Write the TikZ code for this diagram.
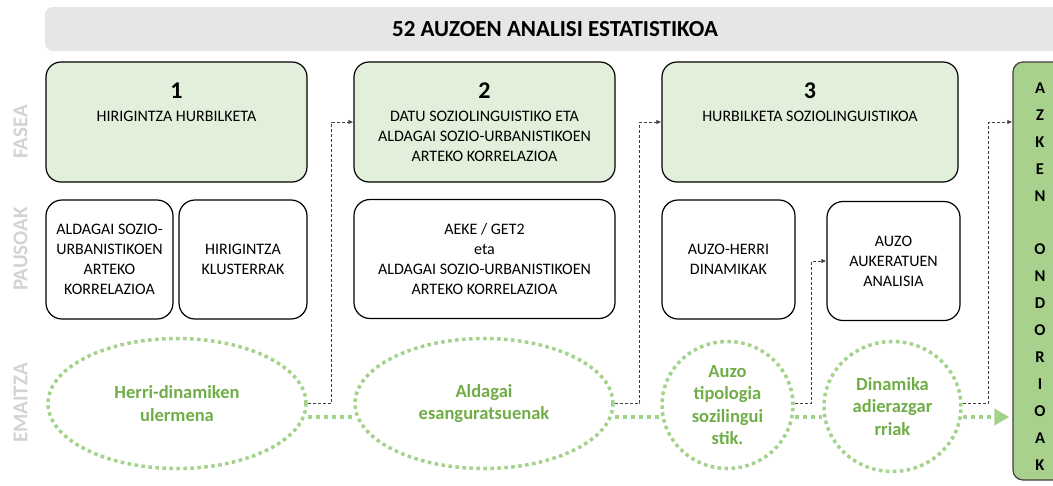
\documentclass[tikz,border=0pt]{standalone}
\usepackage{fontspec}
\setmainfont{Carlito}
\usetikzlibrary{arrows.meta,shapes.geometric,positioning}
\definecolor{phasegreen}{HTML}{E2EFDA}
\definecolor{endgreen}{HTML}{A9D18E}
\definecolor{dotgreen}{HTML}{A3D38A}
\definecolor{textgreen}{HTML}{70AD47}
\definecolor{headgray}{HTML}{E6E6E6}
\definecolor{sidegray}{HTML}{D3D3D3}
\definecolor{linegray}{HTML}{404040}

\begin{document}
\begin{tikzpicture}[x=1pt,y=-1pt,
	phasebox/.style={draw=black, line width=1.2pt, fill=phasegreen, rounded corners=15pt, minimum height=120pt, inner sep=0pt},
	phasenum/.style={font=\fontsize{24}{24}\selectfont\bfseries, inner sep=0pt},
	phasetext/.style={anchor=north, align=center, inner sep=0pt, font=\fontsize{16}{20}\selectfont},
	stepbox/.style={draw=black, line width=1.2pt, fill=white, rounded corners=16pt, minimum height=119pt, align=center, inner sep=0pt, font=\fontsize{16}{20}\selectfont},
	result/.style={ellipse, draw=dotgreen, line width=3.5pt, dash pattern=on 3.5pt off 3.5pt, inner sep=0pt, align=center, text=textgreen, font=\fontsize{18.5}{22.5}\selectfont\bfseries},
	sidelabel/.style={rotate=90, text=sidegray, font=\fontsize{21}{21}\selectfont\bfseries},
	link/.style={draw=linegray, line width=0.8pt, dash pattern=on 3pt off 2pt, -{Latex[length=5pt,width=4.5pt]}},
	flow/.style={draw=dotgreen, line width=4pt, dash pattern=on 4pt off 4pt},
]
	\useasboundingbox (0,0) rectangle (1053,485);
	% header
	\node (head) at (555,29) [fill=headgray, rounded corners=8pt, minimum width=1020pt, minimum height=44pt, font=\fontsize{23}{23}\selectfont\bfseries] {52 AUZOEN ANALISI ESTATISTIKOA};
	% row labels
	\node (fasea) at (20.5,132) [sidelabel] {FASEA};
	\node (pausoak) at (20.5,249) [sidelabel] {PAUSOAK};
	\node (emaitza) at (20.5,403) [sidelabel] {EMAITZA};
	% phases
	\node (f1) at (176.5,122) [phasebox, minimum width=261pt] {};
	\node (f1num) at (176.5,90.5) [phasenum] {1};
	\node (f1txt) at (176.5,111) [phasetext] {HIRIGINTZA HURBILKETA};
	\node (f2) at (484.5,122) [phasebox, minimum width=261pt] {};
	\node (f2num) at (484.5,90.5) [phasenum] {2};
	\node (f2txt) at (484.5,111) [phasetext] {DATU SOZIOLINGUISTIKO ETA\\ALDAGAI SOZIO-URBANISTIKOEN\\ARTEKO KORRELAZIOA};
	\node (f3) at (810,122) [phasebox, minimum width=296pt] {};
	\node (f3num) at (810,90.5) [phasenum] {3};
	\node (f3txt) at (810,111) [phasetext] {HURBILKETA SOZIOLINGUISTIKOA};
	% steps
	\node (s1a) at (109.5,259.5) [stepbox, minimum width=127pt] {ALDAGAI SOZIO-\\URBANISTIKOEN\\ARTEKO\\KORRELAZIOA};
	\node (s1b) at (243,259.5) [stepbox, minimum width=128pt] {HIRIGINTZA\\KLUSTERRAK};
	\node (s2) at (484.5,259) [stepbox, minimum width=261pt] {AEKE / GET2\\eta\\ALDAGAI SOZIO-URBANISTIKOEN\\ARTEKO KORRELAZIOA};
	\node (s3a) at (728.5,259.5) [stepbox, minimum width=133pt] {AUZO-HERRI\\DINAMIKAK};
	\node (s3b) at (893.5,261) [stepbox, minimum width=133pt] {AUZO\\AUKERATUEN\\ANALISIA};
	% results
	\node (e1) at (177,403.5) [result, minimum width=258pt, minimum height=130pt] {Herri-dinamiken\\ulermena};
	\node (e2) at (484,403.5) [result, minimum width=258pt, minimum height=130pt] {Aldagai\\esanguratsuenak};
	\node (e3) at (727.5,405) [result, minimum width=131pt, minimum height=127pt] {Auzo\\tipologia\\sozilingui\\stik.};
	\node (e4) at (892.5,406.5) [result, minimum width=137pt, minimum height=130pt] {Dinamika\\adierazgar\\rriak};
	% conclusions
	\node (fin) at (1040,271) [draw=linegray, line width=1.2pt, fill=endgreen, rounded corners=10pt, minimum width=54pt, minimum height=418pt] {};
	\foreach \l [count=\i] in {A,Z,K,E,N,,O,N,D,O,R,I,O,A,K}
		\node (fin-\i) at (1040,{88+26.93*(\i-1)}) [font=\fontsize{16.5}{16.5}\selectfont\bfseries, inner sep=0pt] {\l};
	% connectors
	\coordinate (flowrow) at (0,417);
	\coordinate (linkrow) at (0,403);
	\draw[flow] (e1.east |- flowrow) -- (e2.west |- flowrow);
	\draw[flow] (e2.east |- flowrow) -- (e3.west |- flowrow);
	\draw[flow] (e3.east |- flowrow) -- (e4.west |- flowrow);
	\draw[flow, -{Triangle[length=15pt,width=16pt]}, shorten >=3pt] (e4.east |- flowrow) -- (fin.west |- flowrow);
	\draw[link] (e1.east |- linkrow) -- ++(24,0) |- (f2.west);
	\draw[link] (e2.east |- linkrow) -- ++(25,0) |- (f3.west);
	\draw[link] (e3.east |- linkrow) -- ++(17,0) |- (s3b.west);
	\draw[link] (e4.east |- linkrow) -- ++(26,0) |- (fin.west |- f3.west);
\end{tikzpicture}
\end{document}
